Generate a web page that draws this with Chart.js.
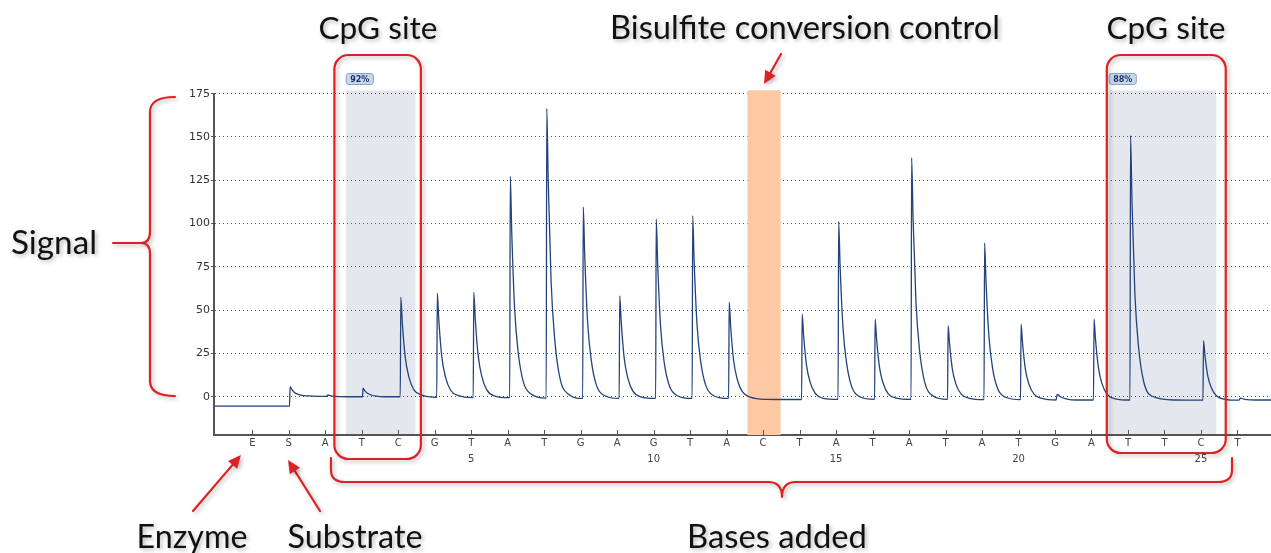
<!DOCTYPE html>
<html>
<head>
<meta charset="utf-8">
<script src="https://cdn.jsdelivr.net/npm/chart.js@4"></script>
<style>
  html, body { margin: 0; padding: 0; background: #fff; }
  #wrap { width: 1271px; height: 553px; position: relative; }
</style>
</head>
<body>
<div id="wrap"><canvas id="pyro" width="1271" height="553"></canvas></div>
<script>
// Dispensation order: E (enzyme) at -1, S (substrate) at 0, then the nucleotides 1..26
const dispensations = ['E','S','A','T','C','G','T','A','T','G','A','G','T','A','C','T','A','T','A','T','A','T','G','A','T','T','C','T'];
const positionNumbers = [5, 10, 15, 20, 25];
const signalTicks = [0, 25, 50, 75, 100, 125, 150, 175];

// CpG sites and their methylation level, bisulfite conversion control
const cpgFrom = [1.56, 22.47];
const cpgTo = [3.47, 25.42];
const cpgPercent = ['92%', '88%'];
const controlFrom = 12.57;
const controlTo = 13.48;

// Pyrogram trace: [dispensation position, signal]
const signalTrace = [
  [-2.05, -5.4], [0.02, -5.4],
  [0.035, 5.8], [0.075, 4.4], [0.155, 2.5], [0.26, 1.4], [0.4, 0.7], [0.65, 0.4],
  [1.04, 0.2], [1.07, 1.0], [1.15, 0.5], [1.4, 0.1],
  [2.02, 0.0], [2.035, 4.9], [2.075, 3.7], [2.155, 2.0], [2.26, 1.0], [2.4, 0.3], [2.65, 0.0],
  [3.055, 0.0], [3.07, 57.5], [3.11, 43.1], [3.19, 23.0], [3.29, 11.5], [3.43, 4.0], [3.65, 0.9],
  [4.055, -0.3], [4.07, 59.8], [4.11, 44.8], [4.19, 23.7], [4.29, 11.7], [4.43, 3.9], [4.65, 0.6],
  [5.055, -0.5], [5.07, 60.4], [5.11, 45.2], [5.19, 23.9], [5.29, 11.7], [5.43, 3.8], [5.65, 0.4],
  [6.055, -0.5], [6.07, 127.3], [6.11, 95.4], [6.19, 50.6], [6.29, 25.1], [6.43, 8.4], [6.65, 1.4],
  [7.055, -0.8], [7.07, 166.5], [7.11, 124.7], [7.19, 66.1], [7.29, 32.7], [7.43, 10.9], [7.65, 1.7],
  [8.055, -1.0], [8.07, 109.6], [8.11, 82.0], [8.19, 43.2], [8.29, 21.1], [8.43, 6.7], [8.65, 0.7],
  [9.055, -1.0], [9.07, 58.3], [9.11, 43.5], [9.19, 22.7], [9.29, 10.9], [9.43, 3.2], [9.65, -0.1],
  [10.055, -1.0], [10.07, 102.7], [10.11, 76.8], [10.19, 40.5], [10.29, 19.7], [10.43, 6.3], [10.65, 0.6],
  [11.055, -1.0], [11.07, 104.6], [11.11, 78.2], [11.19, 41.2], [11.29, 20.1], [11.43, 6.4], [11.65, 0.6],
  [12.055, -1.0], [12.07, 54.6], [12.11, 40.7], [12.19, 21.2], [12.29, 10.1], [12.43, 2.9], [12.65, -0.2],
  [13.1, -1.5], [13.6, -1.6],
  [14.055, -1.6], [14.07, 47.7], [14.11, 35.4], [14.19, 18.1], [14.29, 8.3], [14.43, 1.9], [14.65, -0.9],
  [15.055, -1.5], [15.07, 101.3], [15.11, 75.6], [15.19, 39.6], [15.29, 19.1], [15.43, 5.7], [15.65, 0.0],
  [16.055, -1.5], [16.07, 44.8], [16.11, 33.2], [16.19, 17.0], [16.29, 7.8], [16.43, 1.7], [16.65, -0.8],
  [17.055, -1.5], [17.07, 138.0], [17.11, 103.1], [17.19, 54.3], [17.29, 26.4], [17.43, 8.3], [17.65, 0.6],
  [18.055, -1.5], [18.07, 41.1], [18.11, 30.5], [18.19, 15.5], [18.29, 7.0], [18.43, 1.5], [18.65, -0.9],
  [19.055, -1.7], [19.07, 88.8], [19.11, 66.2], [19.19, 34.5], [19.29, 16.4], [19.43, 4.6], [19.65, -0.3],
  [20.055, -1.7], [20.07, 41.9], [20.11, 31.0], [20.19, 15.7], [20.29, 7.0], [20.43, 1.4], [20.65, -1.0],
  [21.03, -1.9], [21.06, 1.3], [21.15, 0.0], [21.3, -1.2], [21.6, -1.9],
  [22.055, -1.9], [22.07, 44.8], [22.11, 33.1], [22.19, 16.8], [22.29, 7.4], [22.43, 1.4], [22.65, -1.2],
  [23.055, -1.9], [23.07, 150.9], [23.11, 112.7], [23.19, 59.2], [23.29, 28.7], [23.43, 8.8], [23.65, 0.4],
  [24.3, -1.9],
  [25.055, -2.0], [25.07, 32.4], [25.11, 23.8], [25.19, 11.8], [25.29, 4.9], [25.43, 0.4], [25.65, -1.5],
  [26.04, -2.0], [26.08, -0.8], [26.2, -1.5], [26.5, -1.9], [26.92, -1.9]
];

const RED = '#dc2323';
const LABEL_FONT = 'Lato, "Open Sans", sans-serif';

function roundedRect(ctx, x, y, w, h, r) {
  ctx.beginPath();
  ctx.moveTo(x + r, y);
  ctx.lineTo(x + w - r, y);
  ctx.arcTo(x + w, y, x + w, y + r, r);
  ctx.lineTo(x + w, y + h - r);
  ctx.arcTo(x + w, y + h, x + w - r, y + h, r);
  ctx.lineTo(x + r, y + h);
  ctx.arcTo(x, y + h, x, y + h - r, r);
  ctx.lineTo(x, y + r);
  ctx.arcTo(x, y, x + r, y, r);
  ctx.closePath();
}

function withShadow(ctx, fn) {
  ctx.save();
  ctx.shadowColor = 'rgba(0,0,0,0.28)';
  ctx.shadowBlur = 4;
  ctx.shadowOffsetX = 2;
  ctx.shadowOffsetY = 2;
  fn();
  ctx.restore();
}

function arrow(ctx, x1, y1, x2, y2) {
  const a = Math.atan2(y2 - y1, x2 - x1);
  const len = 13, half = 6;
  const bx = x2 - len * Math.cos(a), by = y2 - len * Math.sin(a);
  ctx.beginPath();
  ctx.moveTo(x1, y1);
  ctx.lineTo(bx, by);
  ctx.stroke();
  ctx.beginPath();
  ctx.moveTo(x2, y2);
  ctx.lineTo(bx + half * Math.sin(a), by - half * Math.cos(a));
  ctx.lineTo(bx - half * Math.sin(a), by + half * Math.cos(a));
  ctx.closePath();
  ctx.fill();
}

// Big caption text, sized so it spans the given width
function caption(ctx, text, cx, baseline, width) {
  ctx.font = '100px ' + LABEL_FONT;
  const size = 100 * width / ctx.measureText(text).width;
  ctx.font = size.toFixed(2) + 'px ' + LABEL_FONT;
  ctx.textAlign = 'center';
  ctx.textBaseline = 'alphabetic';
  ctx.fillStyle = '#111';
  ctx.fillText(text, cx, baseline);
}

const annotations = {
  id: 'annotations',
  beforeDraw(chart) {
    const { ctx, chartArea, scales: { x, y } } = chart;
    ctx.save();
    ctx.fillStyle = '#e4e8ee';
    const top = y.getPixelForValue(177);
    for (let i = 0; i < cpgFrom.length; i++) {
      const l = x.getPixelForValue(cpgFrom[i]);
      const r = x.getPixelForValue(cpgTo[i]);
      ctx.fillRect(l, top, r - l, chartArea.bottom - top);
    }
    ctx.restore();
  },
  beforeDatasetsDraw(chart) {
    const { ctx, chartArea, scales: { x, y } } = chart;
    ctx.save();
    ctx.fillStyle = '#fcc9a4';
    const top = y.getPixelForValue(177);
    const l = x.getPixelForValue(controlFrom);
    const r = x.getPixelForValue(controlTo);
    ctx.fillRect(l, top, r - l, chartArea.bottom - top);
    ctx.restore();
  },
  afterDraw(chart) {
    const { ctx, chartArea, scales: { x, y } } = chart;
    ctx.save();

    // tick marks rising from the x axis
    ctx.strokeStyle = '#555';
    ctx.lineWidth = 1;
    for (let v = -1; v <= 26; v++) {
      const px = Math.round(x.getPixelForValue(v)) + 0.5;
      ctx.beginPath();
      ctx.moveTo(px, chartArea.bottom);
      ctx.lineTo(px, chartArea.bottom - 5);
      ctx.stroke();
    }

    // methylation percentage badges
    ctx.font = 'bold 8px "DejaVu Sans", sans-serif';
    ctx.textAlign = 'center';
    ctx.textBaseline = 'middle';
    for (let i = 0; i < cpgFrom.length; i++) {
      const l = x.getPixelForValue(cpgFrom[i]) + 0.5;
      const w = ctx.measureText(cpgPercent[i]).width + 8;
      roundedRect(ctx, l, 73.5, w, 11, 2.5);
      ctx.fillStyle = '#c8d7ee';
      ctx.fill();
      ctx.strokeStyle = '#86a1cc';
      ctx.stroke();
      ctx.fillStyle = '#1d3263';
      ctx.fillText(cpgPercent[i], l + w / 2, 79.5);
    }

    ctx.strokeStyle = RED;
    ctx.fillStyle = RED;
    ctx.lineWidth = 2.2;
    ctx.lineCap = 'round';
    ctx.lineJoin = 'round';

    // red frames around the CpG sites
    const frames = [[1.25, 3.62, 55, 459], [22.42, 25.68, 55, 453]];
    withShadow(ctx, () => {
      frames.forEach(([a, b, t, bt]) => {
        const l = x.getPixelForValue(a), r = x.getPixelForValue(b);
        roundedRect(ctx, l, t, r - l, bt - t, 14);
        ctx.stroke();
      });
    });

    // arrows
    withShadow(ctx, () => {
      arrow(ctx, 781, 54, 764, 84);
      arrow(ctx, 193, 511, 241, 455);
      arrow(ctx, 320, 511, 288, 460);
    });

    // brace beside the signal axis
    withShadow(ctx, () => {
      const bx = 150, cx = 141, top = 97, mid = 243, bot = 396, ex = 175;
      ctx.beginPath();
      ctx.moveTo(ex, top);
      ctx.quadraticCurveTo(bx, top, bx, top + 15);
      ctx.lineTo(bx, mid - 11);
      ctx.quadraticCurveTo(bx, mid, cx, mid);
      ctx.quadraticCurveTo(bx, mid, bx, mid + 11);
      ctx.lineTo(bx, bot - 15);
      ctx.quadraticCurveTo(bx, bot, ex, bot);
      ctx.stroke();
      ctx.beginPath();
      ctx.moveTo(113, mid);
      ctx.lineTo(cx, mid);
      ctx.stroke();
    });

    // brace under the added bases
    withShadow(ctx, () => {
      const l = 331, r = 1232, top = 458, by = 482, cx = 782, tip = 497;
      ctx.beginPath();
      ctx.moveTo(l, top);
      ctx.lineTo(l, by - 12);
      ctx.quadraticCurveTo(l, by, l + 14, by);
      ctx.lineTo(cx - 14, by);
      ctx.quadraticCurveTo(cx, by, cx, tip);
      ctx.quadraticCurveTo(cx, by, cx + 14, by);
      ctx.lineTo(r - 14, by);
      ctx.quadraticCurveTo(r, by, r, by - 12);
      ctx.lineTo(r, top);
      ctx.stroke();
    });

    // captions
    withShadow(ctx, () => {
      caption(ctx, 'CpG site', 378, 39, 119);
      caption(ctx, 'CpG site', 1166, 39, 119);
      caption(ctx, 'Bisulfite conversion control', 805, 39, 390);
      caption(ctx, 'Signal', 54, 254, 86);
      caption(ctx, 'Enzyme', 192, 548, 111);
      caption(ctx, 'Substrate', 355, 548, 135);
      caption(ctx, 'Bases added', 777, 548, 180);
    });

    ctx.restore();
  }
};

new Chart(document.getElementById('pyro'), {
  type: 'line',
  data: {
    datasets: [{
      data: signalTrace,
      borderColor: '#23437a',
      borderWidth: 1.3,
      pointRadius: 0,
      fill: false,
      cubicInterpolationMode: 'monotone'
    }]
  },
  options: {
    responsive: false,
    animation: false,
    devicePixelRatio: 1,
    layout: { padding: { top: 93.7, left: 0, right: 0, bottom: 0 } },
    plugins: { legend: { display: false }, tooltip: { enabled: false } },
    scales: {
      x: {
        type: 'linear',
        min: -2.05,
        max: 26.92,
        afterBuildTicks: s => { s.ticks = dispensations.map((d, i) => ({ value: i - 1 })); },
        afterFit: s => { s.height = 118; s.paddingLeft = 0; s.paddingRight = 0; },
        ticks: {
          autoSkip: false,
          maxRotation: 0,
          padding: 0,
          color: '#444',
          font: { family: '"DejaVu Sans", sans-serif', size: 10, lineHeight: 1.65 },
          callback: v => [dispensations[v + 1], positionNumbers.includes(v) ? String(v) : '']
        },
        grid: { display: true, drawOnChartArea: false, drawTicks: false },
        border: { display: true, color: '#555', width: 2 }
      },
      y: {
        min: -22.1,
        max: 175,
        afterBuildTicks: s => { s.ticks = signalTicks.map(v => ({ value: v })); },
        afterFit: s => { s.width = 214; },
        ticks: {
          padding: 1,
          color: '#333',
          font: { family: '"DejaVu Sans", sans-serif', size: 11 }
        },
        grid: { color: '#555', lineWidth: 1, tickLength: 3, tickColor: '#555', tickBorderDash: [] },
        border: { display: true, color: '#555', width: 2, dash: [1, 3] }
      }
    }
  },
  plugins: [annotations]
});
</script>
</body>
</html>
